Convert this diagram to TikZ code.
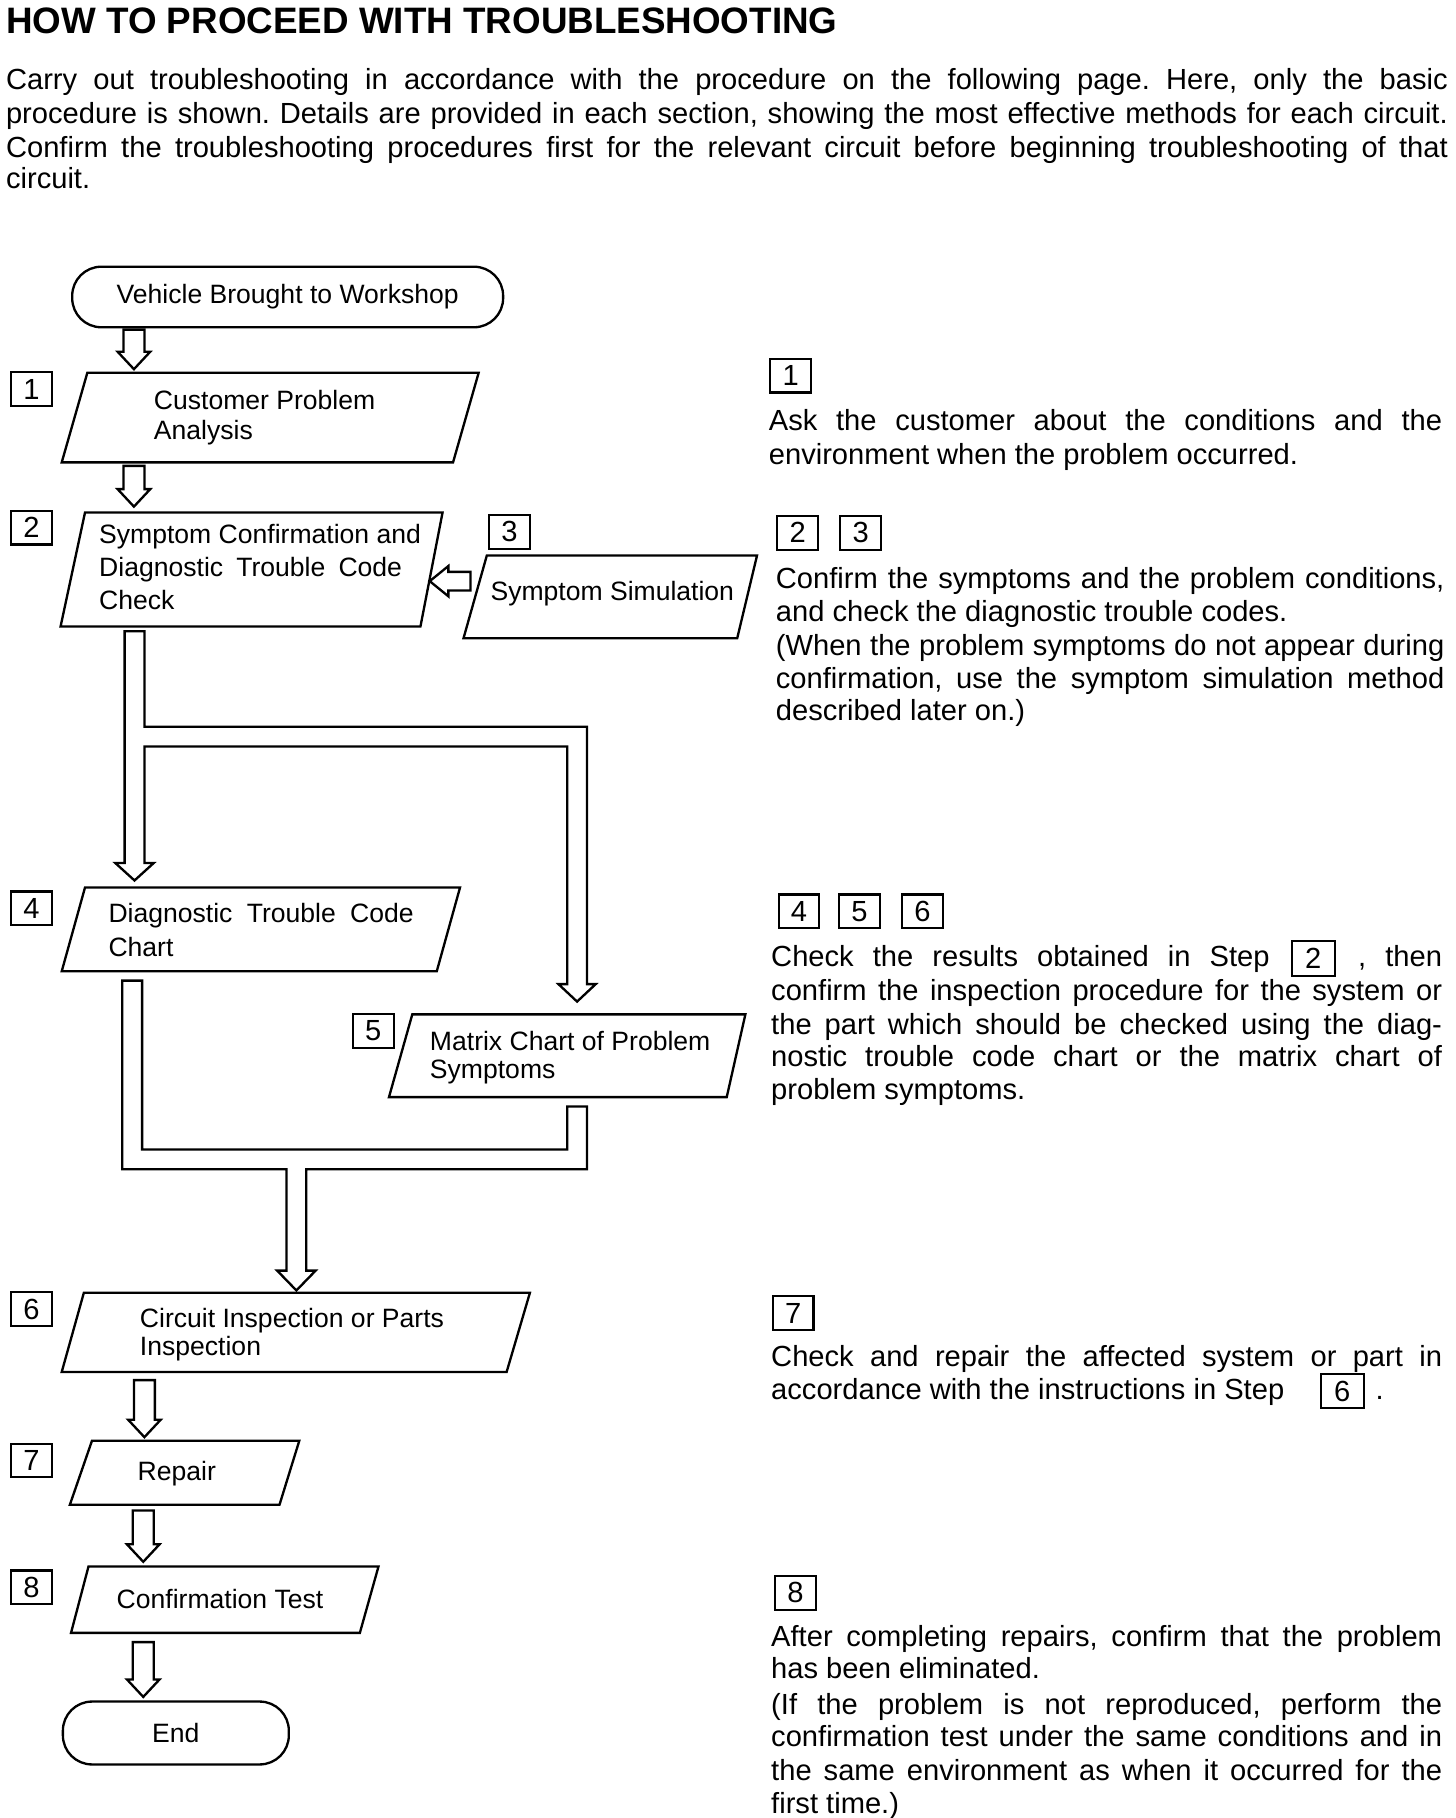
\documentclass[tikz,border=0pt]{standalone}
\usepackage{fontspec}
\setmainfont{Liberation Sans}
\frenchspacing
\newcommand{\bodyfont}{\fontsize{25}{29}\selectfont}
\newcommand{\flowfont}{\fontsize{22.8}{26}\selectfont}
\newcommand{\labfont}{\fontsize{25}{29}\selectfont}
\newcommand{\titlefont}{\fontsize{31.6}{36}\selectfont\bfseries}
\newcommand{\jline}[2]{\makebox[#1pt][s]{#2}}
\newcommand{\hdown}[4]{\draw[ln] ({#1-9},#2) -- ({#1-9},#3) -- ({#1-14},#3) -- (#1,#4) -- ({#1+14},#3) -- ({#1+9},#3) -- ({#1+9},#2) -- cycle;}
\begin{document}
\begin{tikzpicture}[x=1pt,y=-1pt,
  ln/.style={line width=2pt, line join=miter},
  boxshape/.style={draw, line width=2pt, line join=miter},
  lab/.style={draw, line width=1.8pt, minimum width=35pt, minimum height=29pt, inner sep=0pt, font=\labfont},
  ftxt/.style={anchor=base west, inner sep=0pt, font=\flowfont},
  btxt/.style={anchor=base west, inner sep=0pt, font=\bodyfont},
  term/.style={draw, line width=2pt, rounded corners=25pt, inner sep=0pt, font=\flowfont}]
\useasboundingbox (0,0) rectangle (1250,1561);

% ---------- title and intro ----------
\node[anchor=base west, inner sep=0pt, font=\titlefont] (title) at (5,29) {HOW TO PROCEED WITH TROUBLESHOOTING};
\node[btxt] (p1) at (5,77) {\jline{1238}{Carry out troubleshooting in accordance with the procedure on the following page. Here, only the basic}};
\node[btxt] (p2) at (5,106) {\jline{1238}{procedure is shown. Details are provided in each section, showing the most effective methods for each circuit.}};
\node[btxt] (p3) at (5,135) {\jline{1238}{Confirm the troubleshooting procedures first for the relevant circuit before beginning troubleshooting of that}};
\node[btxt] (p4) at (5,162) {circuit.};

% ---------- flowchart ----------
\node[term, minimum width=370pt, minimum height=52pt] (start) at (247,255) {Vehicle Brought to Workshop};
\hdown{115}{283}{302}{317}

\node[lab] (l1) at (27,334) {1};
\draw[boxshape] (75,320) -- (411,320) -- (389,397) -- (53,397) -- cycle;
\node[ftxt] (b1a) at (132,352) {Customer Problem};
\node[ftxt] (b1b) at (132,377) {Analysis};
\hdown{115}{400}{420}{435}

\node[lab] (l2) at (27,453) {2};
\draw[boxshape] (73,440) -- (380,440) -- (361,538) -- (52,538) -- cycle;
\node[ftxt] (b2a) at (85,467) {Symptom Confirmation and};
\node[ftxt] (b2b) at (85,495) {\jline{260}{Diagnostic Trouble Code}};
\node[ftxt] (b2c) at (85,523) {Check};

\node[lab] (l3) at (437.5,456.5) {3};
\draw[boxshape] (418,477) -- (650,477) -- (633,548) -- (398,548) -- cycle;
\node[ftxt] (b3) at (421,516) {Symptom Simulation};
% arrow from 3 to 2
\draw[ln] (404,491) -- (385,491) -- (385,486) -- (369,499) -- (385,512) -- (385,507) -- (404,507) -- cycle;

% split connector from 2 to 4 and 5
\draw[ln] (124,542) -- (107,542) -- (107,741) -- (99,741) -- (115.5,756) -- (132,741) -- (124,741)
  -- (124,641) -- (487,641) -- (487,845) -- (479.5,845) -- (495.5,860) -- (511.5,845) -- (504,845)
  -- (504,624) -- (124,624) -- cycle;

\node[lab] (l4) at (27,780) {4};
\draw[boxshape] (73,762) -- (395,762) -- (375,834) -- (53,834) -- cycle;
\node[ftxt] (b4a) at (93,792) {\jline{262}{Diagnostic Trouble Code}};
\node[ftxt] (b4b) at (93,821) {Chart};

\node[lab] (l5) at (320.5,885) {5};
\draw[boxshape] (354,871) -- (640,871) -- (624,942) -- (334,942) -- cycle;
\node[ftxt] (b5a) at (369,902) {Matrix Chart of Problem};
\node[ftxt] (b5b) at (369,926) {Symptoms};

% merge connector from 4 and 5 to 6
\draw[ln] (105,842) -- (122,842) -- (122,987) -- (487,987) -- (487,950) -- (504,950) -- (504,1004)
  -- (263,1004) -- (263,1091) -- (271,1091) -- (254.5,1108) -- (238,1091) -- (246,1091)
  -- (246,1004) -- (105,1004) -- cycle;

\node[lab] (l6) at (27,1124) {6};
\draw[boxshape] (72,1110) -- (455,1110) -- (435,1178) -- (53,1178) -- cycle;
\node[ftxt] (b6a) at (120,1140) {Circuit Inspection or Parts};
\node[ftxt] (b6b) at (120,1164) {Inspection};
\hdown{124}{1185}{1219}{1234}

\node[lab] (l7) at (27,1254) {7};
\draw[boxshape] (79,1237) -- (257,1237) -- (240,1292) -- (60,1292) -- cycle;
\node[ftxt] (b7) at (118,1271) {Repair};
\hdown{123}{1297}{1326}{1341}

\node[lab] (l8) at (27,1363) {8};
\draw[boxshape] (76,1345) -- (325,1345) -- (309,1402) -- (61,1402) -- cycle;
\node[ftxt] (b8) at (100,1381) {Confirmation Test};
\hdown{123}{1410}{1442}{1457}

\node[term, minimum width=194pt, minimum height=54pt] (endn) at (151,1488) {End};

% ---------- right column ----------
\node[lab] (r1) at (679,322.5) {1};
\node[btxt] (t1a) at (660,370) {\jline{578}{Ask the customer about the conditions and the}};
\node[btxt] (t1b) at (660,399) {environment when the problem occurred.};

\node[lab] (r2) at (685,457.5) {2};
\node[lab] (r3) at (739,457.5) {3};
\node[btxt] (t2a) at (666,505) {\jline{574}{Confirm the symptoms and the problem conditions,}};
\node[btxt] (t2b) at (666,534) {and check the diagnostic trouble codes.};
\node[btxt] (t2c) at (666,563) {\jline{574}{(When the problem symptoms do not appear during}};
\node[btxt] (t2d) at (666,591) {\jline{574}{confirmation, use the symptom simulation method}};
\node[btxt] (t2e) at (666,619) {described later on.)};

\node[lab] (r4) at (686,782.5) {4};
\node[lab] (r5) at (738,782.5) {5};
\node[lab] (r6) at (792,782.5) {6};
\node[btxt] (t3a) at (662,830) {\jline{428}{Check the results obtained in Step}};
\node[lab, minimum width=37pt, minimum height=30pt] (r2b) at (1127.5,823) {2};
\node[btxt] (t3b) at (1166,830) {\jline{72}{, then}};
\node[btxt] (t3c) at (662,859) {\jline{576}{confirm the inspection procedure for the system or}};
\node[btxt] (t3d) at (662,888) {\jline{576}{the part which should be checked using the diag-}};
\node[btxt] (t3e) at (662,916) {\jline{576}{nostic trouble code chart or the matrix chart of}};
\node[btxt] (t3f) at (662,944) {problem symptoms.};

\node[lab] (r7) at (681,1127.5) {7};
\node[btxt] (t4a) at (662,1173) {\jline{576}{Check and repair the affected system or part in}};
\node[btxt] (t4b) at (662,1202) {accordance with the instructions in Step};
\node[lab, minimum width=37pt, minimum height=29pt] (r6b) at (1152.5,1194.5) {6};
\node[btxt] (t4c) at (1181,1202) {.};

\node[lab] (r8) at (683,1367.5) {8};
\node[btxt] (t5a) at (662,1414) {\jline{576}{After completing repairs, confirm that the problem}};
\node[btxt] (t5b) at (662,1441) {has been eliminated.};
\node[btxt] (t5c) at (662,1472) {\jline{576}{(If the problem is not reproduced, perform the}};
\node[btxt] (t5d) at (662,1500) {\jline{576}{confirmation test under the same conditions and in}};
\node[btxt] (t5e) at (662,1529) {\jline{576}{the same environment as when it occurred for the}};
\node[btxt] (t5f) at (662,1557) {first time.)};
\end{tikzpicture}
\end{document}
